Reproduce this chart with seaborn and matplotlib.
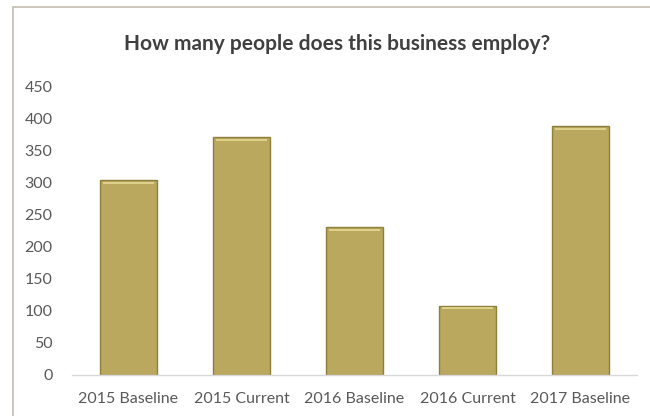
import matplotlib
matplotlib.use("Agg")
import matplotlib.pyplot as plt
import seaborn as sns
import pandas as pd
from matplotlib.patches import Rectangle

categories = ["2015 Baseline", "2015 Current", "2016 Baseline", "2016 Current", "2017 Baseline"]
employees = [303, 370, 230, 108, 387]
y_ticks = [0, 50, 100, 150, 200, 250, 300, 350, 400, 450]

df = pd.DataFrame({"category": categories, "employees": employees})

sns.set_theme(style="white")
plt.rcParams["font.family"] = ["Lato", "DejaVu Sans"]

W, H = 650, 416
fig = plt.figure(figsize=(W / 100, H / 100), dpi=100)
fig.patch.set_facecolor("white")

# chart frame
fig.add_artist(Rectangle((13 / W, -0.05), 1.1, 1 - 7 / H + 0.05,
                         transform=fig.transFigure, fill=False,
                         edgecolor="#c3bcae", linewidth=1.2))

ax = fig.add_axes([72 / W, 1 - 375 / H, (637 - 72) / W, (375 - 86) / H])
sns.barplot(data=df, x="category", y="employees", ax=ax, color="#b9a85e",
            width=0.5, saturation=1, edgecolor="#8f7f3c", linewidth=1.0)

# soft highlight along the top of each bar
for p in ax.patches:
    x0, w, h = p.get_x(), p.get_width(), p.get_height()
    ax.add_patch(Rectangle((x0 + w * 0.04, h - 6), w * 0.92, 4,
                           facecolor="#ddd08a", edgecolor="none", zorder=3))

ax.set_ylim(0, 450)
ax.set_yticks(y_ticks)
ax.set_xlim(-0.5, len(categories) - 0.5)
ax.set_xlabel("")
ax.set_ylabel("")
for s in ["top", "right", "left"]:
    ax.spines[s].set_visible(False)
ax.spines["bottom"].set_color("#d9d9d9")
ax.spines["bottom"].set_linewidth(1.0)
ax.tick_params(axis="x", length=0, labelsize=11.5, colors="#595959", pad=12)
ax.tick_params(axis="y", length=0, labelsize=11.5, colors="#595959", pad=14)
ax.set_facecolor("white")

fig.text(337 / W, 1 - 44 / H, "How many people does this business employ?",
         ha="center", va="center", fontsize=15, fontweight="bold", color="#404040")

fig.savefig("out.png", dpi=100)
